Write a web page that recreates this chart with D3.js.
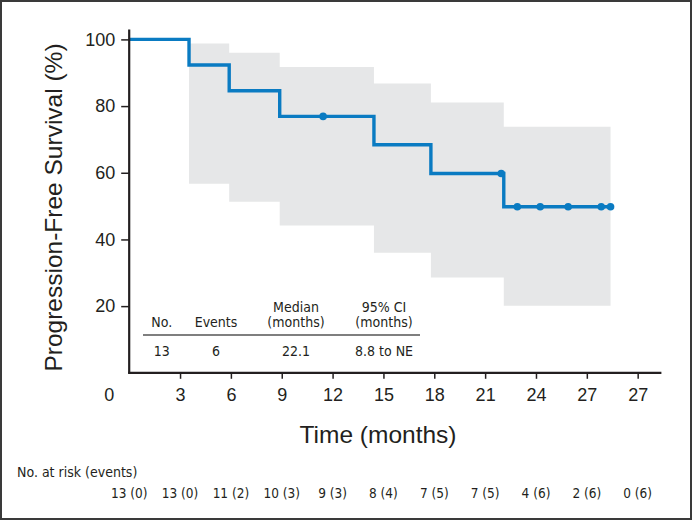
<!DOCTYPE html>
<html>
<head>
<meta charset="utf-8">
<script src="https://cdn.jsdelivr.net/npm/d3@7"></script>
<style>
  html, body { margin: 0; padding: 0; background: #fff; }
  svg { display: block; }
  .narrow { font-family: "Liberation Sans Narrow", "DejaVu Sans Condensed", "Roboto Condensed", "Liberation Sans", sans-serif; font-stretch: condensed; }
</style>
</head>
<body>
<svg id="chart" width="692" height="520"></svg>
<script>
// ---- data ----
const stepTimes = [0, 3.53, 5.9, 8.88, 14.44, 17.8, 22.1];
const stepSurvival = [100, 92.3, 84.6, 76.9, 68.4, 59.8, 49.8];
const curveEndTime = 28.4;

const censorTimes = [11.44, 21.95, 22.9, 24.25, 25.9, 27.85, 28.4];
const censorSurvival = [76.9, 59.8, 49.8, 49.8, 49.8, 49.8, 49.8];

const ciTimes = [3.53, 5.9, 8.88, 14.44, 17.8, 22.1];
const ciUpper = [98.8, 96.0, 91.7, 86.8, 81.1, 73.8];
const ciLower = [56.7, 51.3, 44.2, 36.0, 28.6, 20.1];
const ciEndTime = 28.4;

const xTickValues = [0, 3, 6, 9, 12, 15, 18, 21, 24, 27, 30];
const xTickLabels = ["0", "3", "6", "9", "12", "15", "18", "21", "24", "27", "27"];
const yTickValues = [20, 40, 60, 80, 100];

const riskTimes = [0, 3, 6, 9, 12, 15, 18, 21, 24, 27, 30];
const riskLabels = ["13 (0)", "13 (0)", "11 (2)", "10 (3)", "9 (3)", "8 (4)", "7 (5)", "7 (5)", "4 (6)", "2 (6)", "0 (6)"];

const tableHeaders = [["No."], ["Events"], ["Median", "(months)"], ["95% CI", "(months)"]];
const tableValues = ["13", "6", "22.1", "8.8 to NE"];

// ---- drawing ----
const ink = "#231f20";
const blue = "#0a7bc2";
const band = "#e6e7e8";

const svg = d3.select("#chart");
svg.append("rect").attr("x", 1).attr("y", 1).attr("width", 690).attr("height", 518)
  .attr("fill", "#fff").attr("stroke", "#3a3a3a").attr("stroke-width", 2);

const x = d3.scaleLinear().domain([0, 31.4]).range([129.2, 661.4]);
const y = d3.scaleLinear().domain([0, 103]).range([372.8, 29.4]);

// CI band
const bandData = ciTimes.map((t, i) => ({t, lo: ciLower[i], hi: ciUpper[i]}));
bandData.push({t: ciEndTime, lo: ciLower[ciLower.length - 1], hi: ciUpper[ciUpper.length - 1]});
svg.append("path")
  .datum(bandData)
  .attr("fill", band)
  .attr("d", d3.area().curve(d3.curveStepAfter)
    .x(d => x(d.t)).y0(d => y(d.lo)).y1(d => y(d.hi)));

// KM curve
const curveData = stepTimes.map((t, i) => ({t, s: stepSurvival[i]}));
curveData.push({t: curveEndTime, s: stepSurvival[stepSurvival.length - 1]});
svg.append("path")
  .datum(curveData)
  .attr("fill", "none")
  .attr("stroke", blue)
  .attr("stroke-width", 3.4)
  .attr("d", d3.line().curve(d3.curveStepAfter).x(d => x(d.t)).y(d => y(d.s)));

// censor marks
svg.append("g").selectAll("circle")
  .data(censorTimes.map((t, i) => ({t, s: censorSurvival[i]})))
  .join("circle")
  .attr("cx", d => x(d.t)).attr("cy", d => y(d.s)).attr("r", 3.8)
  .attr("fill", blue);

// axes
const xAxis = svg.append("g")
  .attr("transform", `translate(0,${y(0)})`)
  .call(d3.axisBottom(x).tickValues(xTickValues)
    .tickFormat((d, i) => xTickLabels[i]).tickSize(6).tickPadding(9).tickSizeOuter(0));
xAxis.select(".domain").attr("stroke", ink).attr("stroke-width", 2.2)
  .attr("d", `M${x(0) - 1},0H${x(31.4)}`);
xAxis.selectAll(".tick line").attr("stroke", ink).attr("stroke-width", 1.5);
xAxis.selectAll(".tick text").attr("fill", ink)
  .style("font-family", "'Liberation Sans', Arial, sans-serif").style("font-size", "18px");
xAxis.selectAll(".tick").filter(d => d === 0).each(function() {
  d3.select(this).select("line").remove();
  d3.select(this).select("text").attr("x", -20.5);
});

const yAxis = svg.append("g")
  .attr("transform", `translate(${x(0)},0)`)
  .call(d3.axisLeft(y).tickValues(yTickValues).tickSize(8).tickPadding(6).tickSizeOuter(0));
yAxis.select(".domain").attr("stroke", ink).attr("stroke-width", 2.2)
  .attr("d", `M0,${y(103)}V${y(0) + 1}`);
yAxis.selectAll(".tick line").attr("stroke", ink).attr("stroke-width", 1.5);
yAxis.selectAll(".tick text").attr("fill", ink)
  .style("font-family", "'Liberation Sans', Arial, sans-serif").style("font-size", "18px");

// axis titles
svg.append("text")
  .attr("x", 378).attr("y", 443)
  .attr("text-anchor", "middle").attr("fill", ink)
  .style("font-family", "'Liberation Sans', Arial, sans-serif").style("font-size", "24.5px")
  .text("Time (months)");
svg.append("text")
  .attr("transform", "translate(62,207.5) rotate(-90)")
  .attr("text-anchor", "middle").attr("fill", ink)
  .style("font-family", "'Liberation Sans', Arial, sans-serif").style("font-size", "24.5px")
  .text("Progression-Free Survival (%)");

// inline summary table
const colX = [161.7, 216, 296, 384];
const tbl = svg.append("g").attr("class", "narrow").attr("fill", ink).style("font-size", "14px");
tableHeaders.forEach((lines, i) => {
  lines.forEach((ln, j) => {
    const baseline = 326.5 - (lines.length - 1 - j) * 15;
    tbl.append("text").attr("x", colX[i]).attr("y", baseline)
      .attr("text-anchor", "middle").text(ln);
  });
});
tbl.append("line").attr("x1", 143).attr("x2", 420).attr("y1", 335).attr("y2", 335)
  .attr("stroke", "#555").attr("stroke-width", 1.6);
tableValues.forEach((v, i) => {
  tbl.append("text").attr("x", colX[i]).attr("y", 355.5)
    .attr("text-anchor", "middle").text(v);
});

// number at risk
const risk = svg.append("g").attr("class", "narrow").attr("fill", ink);
risk.append("text").attr("x", 17).attr("y", 476.5).style("font-size", "14px")
  .text("No. at risk (events)");
risk.selectAll("text.val")
  .data(riskTimes.map((t, i) => ({t, label: riskLabels[i]})))
  .join("text").attr("class", "val")
  .attr("x", d => x(d.t)).attr("y", 498.3)
  .attr("text-anchor", "middle").style("font-size", "13.5px")
  .text(d => d.label);
</script>
</body>
</html>
